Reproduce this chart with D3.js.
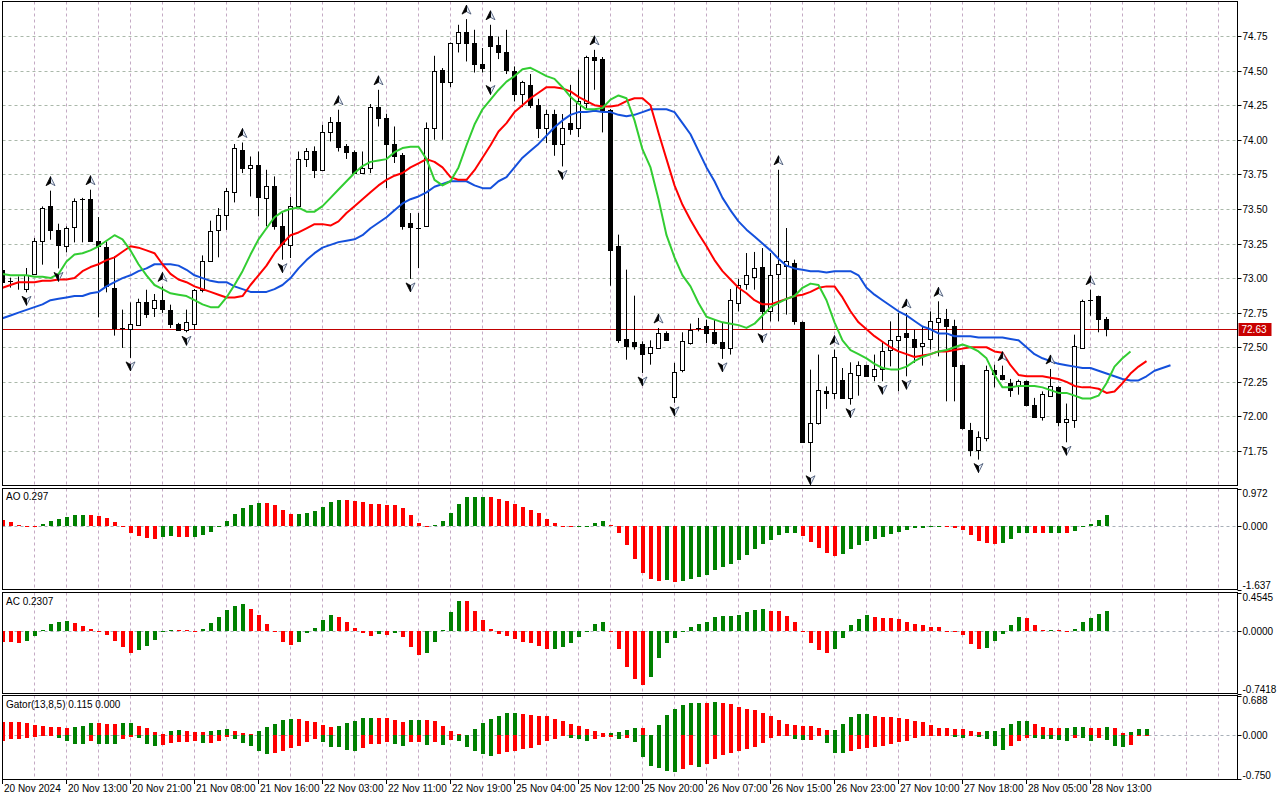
<!DOCTYPE html>
<html><head><meta charset="utf-8">
<script src="https://cdn.jsdelivr.net/npm/d3@7/dist/d3.min.js"></script>
<style>
body{margin:0;background:#fff;}
svg{display:block;}
text{font-family:"Liberation Sans",Arial,sans-serif;font-size:10px;fill:#000;}
</style>
</head><body>
<svg id="chart" width="1280" height="800"></svg>
<script>
// ---------------- DATA ----------------
const xLabels = ["20 Nov 2024","20 Nov 13:00","20 Nov 21:00","21 Nov 08:00","21 Nov 16:00","22 Nov 03:00","22 Nov 11:00","22 Nov 19:00","25 Nov 04:00","25 Nov 12:00","25 Nov 20:00","26 Nov 07:00","26 Nov 15:00","26 Nov 23:00","27 Nov 10:00","27 Nov 18:00","28 Nov 05:00","28 Nov 13:00"];
const priceTicks = [71.75,72.00,72.25,72.50,72.75,73.00,73.25,73.50,73.75,74.00,74.25,74.50,74.75];
const lastPrice = 72.63;

const open = [73.056,72.975,72.969,72.92,73.03,73.27,73.523,73.35,73.229,73.369,
73.57,73.571,73.27,73.222,72.928,72.64,72.634,72.663,72.824,72.781,
72.842,72.772,72.668,72.627,72.668,72.916,73.121,73.345,73.456,73.622,
73.928,73.796,73.814,73.579,73.668,73.379,73.236,73.518,73.861,73.921,
73.778,74.056,74.128,73.952,73.911,73.759,73.796,74.236,74.157,73.971,
73.892,73.398,73.363,73.374,74.085,74.506,74.421,74.699,74.779,74.703,
74.549,74.751,74.686,74.634,74.499,74.330,74.397,74.253,74.085,74.186,
73.969,74.121,74.085,74.265,74.598,74.583,74.217,73.229,72.560,72.535,
72.526,72.459,72.495,72.603,72.138,72.333,72.531,72.639,72.656,72.611,
72.535,72.495,72.820,72.957,73.008,73.080,72.759,73.030,73.085,73.109,
72.683,71.813,71.953,72.186,72.170,72.266,72.134,72.297,72.369,72.290,
72.345,72.478,72.550,72.603,72.560,72.507,72.560,72.683,72.704,72.651,
72.374,71.905,71.760,71.845,72.338,72.302,72.242,72.218,72.259,72.085,
71.996,72.150,72.210,71.957,71.972,72.495,72.849,72.868,72.707];
const high = [73.07,73.003,73.012,73.073,73.29,73.518,73.632,73.393,73.374,73.576,
73.58,73.639,73.441,73.265,73.157,72.772,72.824,72.851,72.916,72.885,
72.94,72.808,72.676,72.772,72.921,73.164,73.415,73.506,73.651,73.969,
73.98,73.879,73.915,73.783,73.735,73.470,73.586,73.915,73.94,73.952,
74.108,74.164,74.217,73.969,73.923,73.915,74.258,74.361,74.188,74.096,
73.904,73.470,73.47,74.125,74.607,74.518,74.703,74.831,74.872,74.795,
74.663,74.831,74.746,74.795,74.530,74.426,74.475,74.296,74.217,74.217,
74.186,74.397,74.506,74.607,74.650,74.598,74.222,73.314,73.061,72.873,
72.543,72.550,72.639,72.615,72.387,72.608,72.671,72.712,72.699,72.699,
72.680,72.921,72.994,73.181,73.189,73.217,73.181,73.783,73.362,73.133,
72.687,72.338,72.447,72.217,72.483,72.350,72.391,72.398,72.374,72.447,
72.543,72.687,72.748,72.748,72.627,72.647,72.759,72.832,72.777,72.699,
72.374,71.953,71.892,72.367,72.374,72.367,72.271,72.266,72.259,72.134,
72.181,72.343,72.217,72.093,72.591,72.844,72.916,72.873,72.719];
const low = [72.95,72.931,72.916,72.897,73.025,73.097,73.277,73.07,73.186,73.258,
73.258,73.265,72.716,72.897,72.584,72.495,72.423,72.656,72.712,72.719,
72.748,72.639,72.622,72.608,72.627,72.897,73.121,73.150,73.348,73.547,
73.759,73.590,73.446,73.374,73.350,73.133,73.145,73.514,73.803,73.723,
73.778,73.988,73.915,73.861,73.754,73.754,73.759,74.096,73.651,73.832,
73.350,72.994,73.073,73.374,74.0,74.0,74.381,74.631,74.566,74.486,
74.486,74.421,74.583,74.475,74.277,74.236,74.229,74.012,73.976,73.884,
73.807,74.036,74.019,74.229,74.361,74.053,72.945,72.531,72.410,72.483,
72.314,72.374,72.495,72.550,72.098,72.319,72.519,72.615,72.531,72.519,
72.416,72.447,72.759,72.916,72.916,72.627,72.687,72.687,72.736,72.663,
71.808,71.60,71.941,72.054,72.126,72.126,72.085,72.150,72.290,72.254,
72.254,72.362,72.182,72.290,72.387,72.367,72.483,72.434,72.109,72.109,
71.905,71.712,71.688,71.820,72.210,72.261,72.141,72.157,72.073,71.994,
71.970,72.141,71.928,71.813,71.917,72.495,72.728,72.608,72.579];
const close = [72.969,72.977,72.970,73.02,73.27,73.506,73.345,73.236,73.362,73.559,
73.575,73.265,73.229,72.94,72.639,72.641,72.668,72.824,72.741,72.842,
72.779,72.668,72.627,72.683,72.916,73.121,73.337,73.456,73.632,73.94,
73.793,73.814,73.583,73.668,73.374,73.249,73.518,73.863,73.921,73.783,
74.056,74.128,73.944,73.908,73.759,73.796,74.236,74.157,73.969,73.879,
73.374,73.366,73.361,74.085,74.494,74.417,74.699,74.779,74.699,74.547,
74.522,74.681,74.634,74.501,74.330,74.414,74.248,74.085,74.186,73.969,
74.085,74.079,74.277,74.598,74.573,74.205,73.205,72.550,72.507,72.507,
72.452,72.502,72.603,72.550,72.321,72.543,72.627,72.640,72.603,72.531,
72.495,72.839,72.952,73.025,73.073,72.759,73.025,73.102,73.121,72.687,
71.813,71.953,72.194,72.170,72.430,72.134,72.314,72.369,72.290,72.345,
72.470,72.550,72.579,72.574,72.499,72.531,72.687,72.712,72.651,72.367,
71.917,71.760,71.852,72.338,72.309,72.271,72.194,72.259,72.080,71.994,
72.163,72.217,71.957,71.982,72.506,72.837,72.839,72.707,72.632];

// Alligator (already shifted forward: jaw 8, teeth 5, lips 3 bars)
const jaw = [72.71,72.73,72.75,72.77,72.79,72.81,72.84,72.85,72.86,72.87,
72.87,72.89,72.90,72.94,72.97,73.00,73.02,73.05,73.07,73.10,
73.10,73.10,73.09,73.06,73.02,73.00,72.98,72.97,72.97,72.94,
72.92,72.90,72.90,72.90,72.92,72.95,73.00,73.07,73.13,73.18,
73.22,73.24,73.26,73.27,73.28,73.31,73.36,73.40,73.44,73.49,
73.54,73.57,73.59,73.62,73.66,73.68,73.70,73.70,73.70,73.67,
73.65,73.65,73.70,73.73,73.80,73.87,73.92,73.97,74.03,74.09,
74.14,74.18,74.20,74.20,74.21,74.20,74.20,74.18,74.17,74.18,
74.20,74.22,74.22,74.22,74.20,74.12,74.04,73.92,73.80,73.70,
73.58,73.49,73.41,73.35,73.30,73.25,73.20,73.14,73.09,73.07,
73.06,73.05,73.05,73.04,73.05,73.05,73.05,73.02,72.93,72.88,
72.84,72.80,72.76,72.73,72.69,72.65,72.63,72.60,72.60,72.58,
72.58,72.58,72.57,72.57,72.57,72.57,72.56,72.55,72.50,72.45,
72.42,72.40,72.38,72.37,72.36,72.35,72.35,72.33,72.31,72.29,
72.27,72.26,72.26,72.29,72.33,72.35,72.37];
const teeth = [72.93,72.95,72.97,72.97,72.97,72.98,72.98,72.99,72.99,73.00,
73.05,73.08,73.10,73.13,73.15,73.19,73.23,73.22,73.20,73.18,
73.10,73.03,72.99,72.97,72.94,72.92,72.90,72.88,72.86,72.86,
72.87,72.95,73.02,73.09,73.18,73.25,73.31,73.33,73.36,73.39,
73.39,73.38,73.41,73.47,73.52,73.57,73.62,73.67,73.71,73.74,
73.76,73.80,73.83,73.86,73.84,73.80,73.73,73.71,73.71,73.78,
73.87,73.96,74.06,74.12,74.20,74.25,74.30,74.34,74.38,74.38,
74.37,74.35,74.31,74.28,74.25,74.24,74.24,74.25,74.28,74.30,
74.30,74.25,74.05,73.86,73.67,73.53,73.42,73.32,73.23,73.13,
73.05,72.99,72.93,72.89,72.84,72.81,72.81,72.83,72.85,72.87,
72.88,72.90,72.93,72.94,72.94,72.86,72.76,72.68,72.63,72.58,
72.54,72.50,72.47,72.45,72.43,72.44,72.45,72.47,72.47,72.48,
72.49,72.50,72.50,72.50,72.47,72.46,72.37,72.30,72.29,72.29,
72.29,72.28,72.27,72.25,72.22,72.21,72.21,72.20,72.17,72.18,
72.24,72.31,72.36,72.40];
const lips = [73.03,73.02,73.02,73.02,73.01,73.01,73.00,73.03,73.12,73.17,
73.18,73.20,73.23,73.27,73.31,73.28,73.20,73.10,73.02,72.95,
72.92,72.89,72.88,72.87,72.84,72.81,72.79,72.79,72.86,72.95,
73.05,73.17,73.28,73.36,73.44,73.48,73.50,73.51,73.48,73.48,
73.52,73.58,73.64,73.70,73.76,73.81,73.84,73.85,73.86,73.91,
73.94,73.95,73.95,73.86,73.71,73.67,73.70,73.80,73.96,74.11,
74.22,74.29,74.36,74.42,74.46,74.51,74.52,74.49,74.46,74.44,
74.38,74.31,74.26,74.22,74.22,74.23,74.29,74.32,74.30,74.14,
73.93,73.80,73.57,73.31,73.15,73.02,72.94,72.82,72.72,72.70,
72.68,72.67,72.66,72.64,72.67,72.73,72.79,72.82,72.85,72.87,
72.93,72.96,72.95,72.84,72.68,72.55,72.48,72.45,72.42,72.38,
72.35,72.34,72.34,72.36,72.40,72.43,72.45,72.47,72.48,72.50,
72.52,72.50,72.47,72.42,72.30,72.21,72.21,72.22,72.22,72.22,
72.21,72.19,72.17,72.17,72.15,72.13,72.13,72.15,72.24,72.36,
72.42,72.47];

const fractalUp = [6,11,20,30,42,47,58,61,74,82,97,104,113,117,125,131,136];
const fractalDown = [3,7,16,23,35,51,61,70,80,84,90,95,101,106,110,113,122,133];

const aoPrev = 0.20;
const ao = [0.17,0.10,0.03,0.01,0.005,0.05,0.13,0.18,0.23,0.285,
0.29,0.287,0.26,0.21,0.10,0.01,-0.17,-0.25,-0.30,-0.34,
-0.27,-0.25,-0.28,-0.285,-0.27,-0.22,-0.15,-0.02,0.13,0.32,
0.47,0.55,0.60,0.598,0.55,0.42,0.31,0.315,0.34,0.39,
0.49,0.62,0.68,0.675,0.65,0.63,0.57,0.56,0.55,0.545,
0.48,0.29,0.09,0.01,0.03,0.14,0.35,0.58,0.74,0.745,
0.76,0.74,0.69,0.66,0.58,0.50,0.42,0.33,0.19,0.09,
0.01,-0.03,-0.025,0.005,0.09,0.14,0.035,-0.19,-0.50,-0.84,
-1.22,-1.36,-1.42,-1.39,-1.45,-1.42,-1.36,-1.31,-1.26,-1.13,
-1.05,-0.97,-0.87,-0.74,-0.58,-0.45,-0.35,-0.24,-0.19,-0.17,
-0.26,-0.40,-0.56,-0.70,-0.76,-0.72,-0.59,-0.50,-0.39,-0.33,
-0.27,-0.20,-0.14,-0.09,-0.06,-0.04,-0.02,-0.015,-0.02,-0.04,
-0.10,-0.22,-0.39,-0.43,-0.46,-0.43,-0.33,-0.19,-0.17,-0.18,
-0.185,-0.175,-0.17,-0.18,-0.13,-0.03,0.06,0.16,0.297];
const aoTicks = [0.972, 0.000, -1.637];

const acPrev = 0.0;
const ac = [-0.128,-0.13,-0.14,-0.116,-0.056,0.012,0.084,0.111,0.112,0.09,
0.06,0.028,-0.016,-0.052,-0.116,-0.196,-0.26,-0.224,-0.176,-0.104,
-0.016,0.012,0.01,0.005,-0.003,0.028,0.096,0.17,0.243,0.30,
0.314,0.255,0.183,0.087,-0.005,-0.128,-0.163,-0.128,-0.028,0.032,
0.124,0.183,0.16,0.10,0.032,-0.024,-0.056,-0.04,-0.045,-0.03,
-0.076,-0.188,-0.29,-0.26,-0.136,0.01,0.22,0.35,0.349,0.23,
0.123,0.028,-0.04,-0.064,-0.10,-0.128,-0.14,-0.184,-0.212,-0.21,
-0.196,-0.148,-0.076,0.0,0.087,0.11,-0.002,-0.22,-0.427,-0.57,
-0.638,-0.547,-0.327,-0.148,-0.08,0.003,0.04,0.08,0.107,0.16,
0.171,0.172,0.187,0.219,0.246,0.255,0.24,0.235,0.171,0.10,
-0.002,-0.14,-0.23,-0.267,-0.22,-0.08,0.068,0.135,0.187,0.17,
0.15,0.148,0.135,0.11,0.087,0.075,0.048,0.04,-0.002,-0.012,
-0.052,-0.152,-0.22,-0.2,-0.124,-0.04,0.075,0.16,0.155,0.075,
0.012,0.013,0.012,0.003,0.024,0.1,0.148,0.2,0.2307];
const acTicks = [0.4545, 0.0000, -0.7418];

const gatorUpper = [0.226,0.226,0.225,0.208,0.174,0.156,0.139,0.138,0.122,0.139,
0.156,0.208,0.207,0.191,0.190,0.208,0.209,0.156,0.122,0.052,
0.017,0.069,0.087,0.069,0.068,0.052,0.069,0.087,0.104,0.075,
0.040,0.023,0.069,0.139,0.191,0.260,0.278,0.277,0.243,0.226,
0.174,0.139,0.156,0.208,0.243,0.295,0.296,0.295,0.294,0.260,
0.226,0.261,0.266,0.260,0.249,0.162,0.075,0.017,0.003,0.110,
0.214,0.284,0.330,0.388,0.389,0.365,0.347,0.336,0.335,0.278,
0.249,0.191,0.162,0.110,0.069,0.041,0.042,0.058,0.093,0.133,
0.132,0.006,0.185,0.353,0.463,0.527,0.561,0.562,0.561,0.579,
0.561,0.544,0.492,0.457,0.434,0.388,0.330,0.260,0.191,0.174,
0.156,0.155,0.133,0.093,0.095,0.191,0.318,0.365,0.366,0.330,
0.318,0.317,0.301,0.278,0.243,0.226,0.174,0.133,0.127,0.104,
0.103,0.075,0.058,0.07,0.075,0.127,0.191,0.249,0.25,0.191,
0.145,0.133,0.127,0.128,0.145,0.146,0.127,0.12,0.145,0.127,
0.041,0.058,0.105,0.115];
const gatorLower = [-0.098,-0.069,-0.069,-0.046,-0.029,-0.012,-0.010,-0.046,-0.104,-0.145,
-0.146,-0.098,-0.139,-0.150,-0.152,-0.069,-0.029,-0.046,-0.150,-0.185,
-0.168,-0.133,-0.116,-0.115,-0.104,-0.133,-0.132,-0.098,-0.029,-0.064,
-0.133,-0.185,-0.260,-0.324,-0.307,-0.272,-0.220,-0.185,-0.116,-0.069,
-0.116,-0.203,-0.204,-0.249,-0.260,-0.220,-0.150,-0.149,-0.116,-0.150,
-0.185,-0.120,-0.116,-0.162,-0.110,-0.162,-0.075,-0.098,-0.191,-0.260,
-0.318,-0.353,-0.318,-0.284,-0.272,-0.231,-0.220,-0.162,-0.098,-0.058,
-0.002,-0.041,-0.058,-0.098,-0.058,-0.029,-0.028,-0.058,-0.041,-0.116,
-0.376,-0.521,-0.561,-0.613,-0.637,-0.579,-0.509,-0.538,-0.492,-0.405,
-0.336,-0.301,-0.260,-0.231,-0.203,-0.127,-0.041,-0.003,-0.002,-0.058,
-0.075,-0.070,-0.017,-0.133,-0.307,-0.310,-0.272,-0.231,-0.214,-0.203,
-0.185,-0.145,-0.116,-0.098,-0.041,-0.005,-0.003,-0.002,-0.001,-0.029,
-0.041,-0.010,-0.030,-0.058,-0.185,-0.249,-0.185,-0.098,-0.040,-0.045,
-0.058,-0.060,-0.075,-0.098,-0.041,-0.042,-0.098,-0.040,-0.075,-0.179,
-0.203,-0.162,-0.003,0];
const gatorTicks = [0.688, 0.000, -0.750];

// ---------------- DRAWING ----------------
const svg = d3.select("#chart");
const W = 1280, H = 800;
const L = 2.5, R = 1237.5;
const GREEN = "#008000", RED = "#ff0000";
const panels = {
  main: {top: 1.5, bottom: 485.5},
  ao: {top: 488.5, bottom: 589.5},
  ac: {top: 592.5, bottom: 693.5},
  gator: {top: 695.5, bottom: 779.5}
};

const x = d3.scaleLinear().domain([0, 1]).range([2.5, 10.5]);
const yMain = d3.scaleLinear().domain([71.75, 74.75]).range([451, 36]);
const yAO = d3.scaleLinear().domain([aoTicks[2], aoTicks[0]]).range([589.5, 488.5]);
const yAC = d3.scaleLinear().domain([acTicks[2], acTicks[0]]).range([693.5, 592.5]);
const yG = d3.scaleLinear().domain([gatorTicks[2], gatorTicks[0]]).range([779, 695.5]);

const defs = svg.append("defs");
Object.entries(panels).forEach(([k, p]) => {
  defs.append("clipPath").attr("id", "clip-" + k).append("rect")
    .attr("x", L).attr("y", p.top).attr("width", R - L).attr("height", p.bottom - p.top);
});

svg.append("rect").attr("width", W).attr("height", H).attr("fill", "#fff");

// vertical grid
const vGrid = d3.range(0, 39).map(k => 4 * k);
Object.entries(panels).forEach(([k, p]) => {
  const g = svg.append("g").attr("clip-path", `url(#clip-${k})`);
  g.selectAll("line.v").data(vGrid).join("line")
    .attr("x1", d => x(d)).attr("x2", d => x(d))
    .attr("y1", p.top).attr("y2", p.bottom)
    .attr("stroke", "#c4aac4").attr("stroke-width", 1).attr("stroke-dasharray", "3,3");
});

// horizontal grid main
svg.append("g").selectAll("line").data(priceTicks).join("line")
  .attr("x1", L).attr("x2", R)
  .attr("y1", d => Math.round(yMain(d)) + 0.5).attr("y2", d => Math.round(yMain(d)) + 0.5)
  .attr("stroke", "#aab8aa").attr("stroke-dasharray", "3,3");

// zero lines in sub panels
[yAO, yAC, yG].forEach(s => {
  const yy = Math.round(s(0)) + 0.5;
  svg.append("line").attr("x1", L).attr("x2", R).attr("y1", yy).attr("y2", yy)
    .attr("stroke", "#a8b0b8").attr("stroke-dasharray", "3,3");
});

// current price line
const ypx = Math.round(yMain(lastPrice)) + 0.5;
svg.append("line").attr("x1", L).attr("x2", R).attr("y1", ypx).attr("y2", ypx)
  .attr("stroke", "#c00000").attr("stroke-width", 1);

// candles
const gc = svg.append("g").attr("clip-path", "url(#clip-main)");
const idx = d3.range(open.length);
idx.forEach(i => {
  const xc = x(i);
  gc.append("line").attr("x1", xc).attr("x2", xc)
    .attr("y1", yMain(high[i])).attr("y2", yMain(low[i]))
    .attr("stroke", "#000").attr("stroke-width", 1);
  const bull = close[i] >= open[i];
  const yt = yMain(Math.max(open[i], close[i]));
  const yb = yMain(Math.min(open[i], close[i]));
  if (yb - yt < 1.5) {
    const yy = Math.round((yt + yb) / 2) + 0.5;
    gc.append("line").attr("x1", xc - 2.5).attr("x2", xc + 2.5).attr("y1", yy).attr("y2", yy)
      .attr("stroke", "#000");
  } else {
    gc.append("rect").attr("x", xc - 2).attr("y", Math.round(yt) + 0.5)
      .attr("width", 4).attr("height", Math.round(yb) - Math.round(yt))
      .attr("fill", bull ? "#fff" : "#000").attr("stroke", "#000").attr("stroke-width", 1);
  }
});

// alligator lines
const lineGen = d3.line().x((d, i) => x(i)).y(d => yMain(d));
[[jaw, "#1450dc"], [teeth, "#ff0000"], [lips, "#32cd32"]].forEach(([arr, col]) => {
  gc.append("path").attr("d", lineGen(arr)).attr("fill", "none")
    .attr("stroke", col).attr("stroke-width", 2).attr("stroke-linejoin", "round");
});

// fractals (arrowhead glyphs: left half dark, right half light with outline)
function fractal(cx, cy, dir) {
  const s = dir; // 1 = up, -1 = down
  const tip = [0, -5 * s], rw = [4.5, 4 * s], nt = [0, 1.5 * s], lw = [-4.5, 4 * s];
  const g = gc.append("g").attr("transform", `translate(${cx},${cy})`);
  g.append("path").attr("d", `M${tip}L${rw}L${nt}Z`).attr("fill", "#e8eef8")
    .attr("stroke", "#3a4a6a").attr("stroke-width", 0.8).attr("stroke-linejoin", "round");
  g.append("path").attr("d", `M${tip}L${nt}L${lw}Z`).attr("fill", "#000")
    .attr("stroke", "#000").attr("stroke-width", 0.8).attr("stroke-linejoin", "round");
}
fractalUp.forEach(i => fractal(x(i), yMain(high[i]) - 9, 1));
fractalDown.forEach(i => fractal(x(i), yMain(low[i]) + 8, -1));

// histogram helper
function histo(vals, scale, clipId, colorFn) {
  const g = svg.append("g").attr("clip-path", `url(#clip-${clipId})`);
  const z = scale(0);
  vals.forEach((v, i) => {
    const y1 = scale(v);
    const top = Math.min(y1, z), h = Math.max(Math.abs(y1 - z), 1);
    g.append("rect").attr("x", x(i) - 2).attr("y", top).attr("width", 4).attr("height", h)
      .attr("fill", colorFn(v, i)).attr("shape-rendering", "crispEdges");
  });
}
histo(ao, yAO, "ao", (v, i) => v > (i === 0 ? aoPrev : ao[i - 1]) ? GREEN : RED);
histo(ac, yAC, "ac", (v, i) => v > (i === 0 ? acPrev : ac[i - 1]) ? GREEN : RED);
histo(gatorUpper, yG, "gator", (v, i) => (i > 0 && v > gatorUpper[i - 1]) ? GREEN : RED);
histo(gatorLower, yG, "gator", (v, i) => (i > 0 && Math.abs(v) > Math.abs(gatorLower[i - 1])) ? GREEN : RED);

// panel frames
Object.values(panels).forEach(p => {
  svg.append("rect").attr("x", L).attr("y", p.top).attr("width", R - L).attr("height", p.bottom - p.top)
    .attr("fill", "none").attr("stroke", "#000").attr("stroke-width", 1);
});

// right axis - main
const ra = svg.append("g");
priceTicks.forEach(t => {
  const yy = Math.round(yMain(t)) + 0.5;
  ra.append("line").attr("x1", R).attr("x2", R + 4).attr("y1", yy).attr("y2", yy).attr("stroke", "#000");
  ra.append("text").attr("x", R + 5).attr("y", yy + 3.5).text(t.toFixed(2));
});
ra.append("rect").attr("x", R + 1).attr("y", ypx - 6.5).attr("width", 33).attr("height", 13).attr("fill", "#c80000");
ra.append("text").attr("x", R + 4).attr("y", ypx + 3.5).attr("style", "fill:#fff").text(lastPrice.toFixed(2));

// right axis - sub panels
function subAxis(ticks, scale, p, fmt) {
  ticks.forEach((t, k) => {
    const yv = Math.round(scale(t)) + 0.5;
    let ty = yv + 3.5;
    if (k === 0) ty = p.top + 8;
    if (k === ticks.length - 1) ty = p.bottom - 1;
    ra.append("line").attr("x1", R).attr("x2", R + 4).attr("y1", yv).attr("y2", yv).attr("stroke", "#000");
    ra.append("text").attr("x", R + 5).attr("y", ty).text(t.toFixed(fmt));
  });
}
subAxis(aoTicks, yAO, panels.ao, 3);
subAxis(acTicks, yAC, panels.ac, 4);
subAxis(gatorTicks, yG, panels.gator, 3);

// indicator labels
svg.append("text").attr("x", 6).attr("y", 500).text("AO " + ao[ao.length - 1].toFixed(3));
svg.append("text").attr("x", 6).attr("y", 605).text("AC " + ac[ac.length - 1].toFixed(4));
svg.append("text").attr("x", 6).attr("y", 708).text("Gator(13,8,5) " + gatorUpper[gatorUpper.length - 1].toFixed(3) + " " + Math.abs(gatorLower[gatorLower.length - 1]).toFixed(3));

// x axis labels
xLabels.forEach((lab, k) => {
  const xi = x(k * 8);
  svg.append("line").attr("x1", xi).attr("x2", xi).attr("y1", 779.5).attr("y2", 784).attr("stroke", "#000");
  svg.append("text").attr("x", xi + 1.5).attr("y", 792).text(lab);
});
</script>
</body></html>
